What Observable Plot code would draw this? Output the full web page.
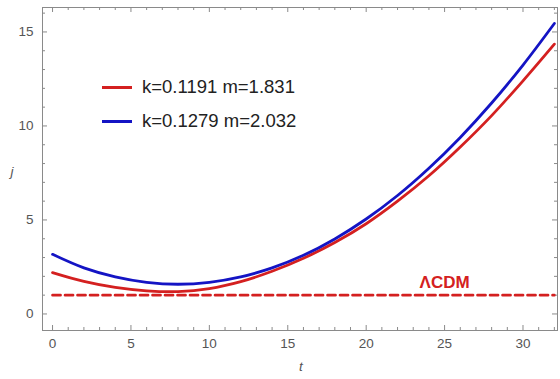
<!DOCTYPE html>
<html>
<head>
<meta charset="utf-8">
<script src="https://cdn.jsdelivr.net/npm/d3@7"></script>
<script src="https://cdn.jsdelivr.net/npm/@observablehq/plot@0.6"></script>
<style>
  body { margin: 0; background: #fff; }
  #wrap { position: relative; width: 560px; height: 379px; font-family: Arial, "Liberation Sans", sans-serif; }
  .leg { position: absolute; left: 102px; font-size: 18.5px; color: #222; display: flex; align-items: center; }
  .leg span.sw { display: inline-block; width: 30px; height: 3px; margin-right: 10px; }
</style>
</head>
<body>
<div id="wrap"></div>
<script>
const tValues = [0, 2, 4, 6, 8, 10, 12, 14, 16, 18, 20, 22, 24, 26, 28, 30, 32];
const redValues = [2.2, 1.73, 1.41, 1.23, 1.19, 1.35, 1.72, 2.27, 2.96, 3.8, 4.8, 6.0, 7.35, 8.88, 10.55, 12.4, 14.35];
const blueValues = [3.17, 2.45, 1.97, 1.68, 1.58, 1.68, 1.97, 2.45, 3.12, 3.99, 5.05, 6.3, 7.75, 9.39, 11.22, 13.24, 15.45];
const seriesNames = ["k=0.1191 m=1.831", "k=0.1279 m=2.032"];
const seriesColors = ["#d42020", "#1414c4"];
const lcdmValue = 1;
const lcdmLabel = "ΛCDM";
const xTicks = [0, 5, 10, 15, 20, 25, 30];
const yTicks = [0, 5, 10, 15];

const red = tValues.map((t, i) => ({t, j: redValues[i]}));
const blue = tValues.map((t, i) => ({t, j: blueValues[i]}));
const lcdm = [{t: tValues[0], j: lcdmValue}, {t: tValues[tValues.length - 1], j: lcdmValue}];
const xMinor = d3.range(0, 33, 1).filter(v => v % 5 !== 0);
const yMinor = d3.range(0, 17, 1).filter(v => v % 5 !== 0);

const W = 560, H = 379, mL = 42, mR = 3, mT = 7, mB = 49;
const iw = W - mL - mR, ih = H - mT - mB;
const gray = "#8a8a8a";
const plot = Plot.plot({
  width: W,
  height: H,
  marginLeft: mL,
  marginRight: mR,
  marginTop: mT,
  marginBottom: mB,
  style: {fontFamily: "Arial, 'Liberation Sans', sans-serif", fontSize: "13.5px", color: "#555", background: "#fff"},
  x: {domain: [-0.64, 32.2]},
  y: {domain: [-0.88, 16.3]},
  marks: [
    Plot.frame({stroke: gray, strokeWidth: 1}),
    Plot.axisX(xTicks, {anchor: "bottom", tickSize: 0, tickPadding: 8, fill: "#555", fontSize: 13.5, label: null}),
    Plot.axisY(yTicks, {anchor: "left", tickSize: 0, tickPadding: 9, fill: "#555", fontSize: 13.5, label: null}),
    // inward ticks
    Plot.tickX(xTicks, {x: d => d, insetTop: ih - 5, stroke: gray}),
    Plot.tickX(xMinor, {x: d => d, insetTop: ih - 3, stroke: gray}),
    Plot.tickX(xTicks, {x: d => d, insetBottom: ih - 5, stroke: gray}),
    Plot.tickX(xMinor, {x: d => d, insetBottom: ih - 3, stroke: gray}),
    Plot.tickY(yTicks, {y: d => d, insetRight: iw - 5, stroke: gray}),
    Plot.tickY(yMinor, {y: d => d, insetRight: iw - 3, stroke: gray}),
    Plot.tickY(yTicks, {y: d => d, insetLeft: iw - 5, stroke: gray}),
    Plot.tickY(yMinor, {y: d => d, insetLeft: iw - 3, stroke: gray}),
    Plot.line(lcdm, {x: "t", y: "j", stroke: seriesColors[0], strokeWidth: 2.7, strokeDasharray: "8,4.5"}),
    Plot.line(red, {x: "t", y: "j", stroke: seriesColors[0], strokeWidth: 2.8, curve: "catmull-rom"}),
    Plot.line(blue, {x: "t", y: "j", stroke: seriesColors[1], strokeWidth: 2.8, curve: "catmull-rom"}),
    Plot.text([lcdmLabel], {x: 25.0, y: 1.66, text: d => d, fill: seriesColors[0], fontSize: 17, fontWeight: "bold"})
  ]
});
const wrap = document.getElementById("wrap");
wrap.appendChild(plot);

// axis titles
const svg = d3.select(plot);
svg.append("text").attr("x", 12).attr("y", 176).attr("text-anchor", "middle")
  .attr("font-style", "italic").attr("font-size", 13.5).attr("fill", "#555").text("j");
svg.append("text").attr("x", 301).attr("y", 371).attr("text-anchor", "middle")
  .attr("font-style", "italic").attr("font-size", 13.5).attr("fill", "#555").text("t");

// legend
seriesNames.forEach((name, i) => {
  const d = document.createElement("div");
  d.className = "leg";
  d.style.top = (76 + i * 34) + "px";
  d.innerHTML = `<span class="sw" style="background:${seriesColors[i]}"></span>${name}`;
  wrap.appendChild(d);
});
</script>
</body>
</html>
